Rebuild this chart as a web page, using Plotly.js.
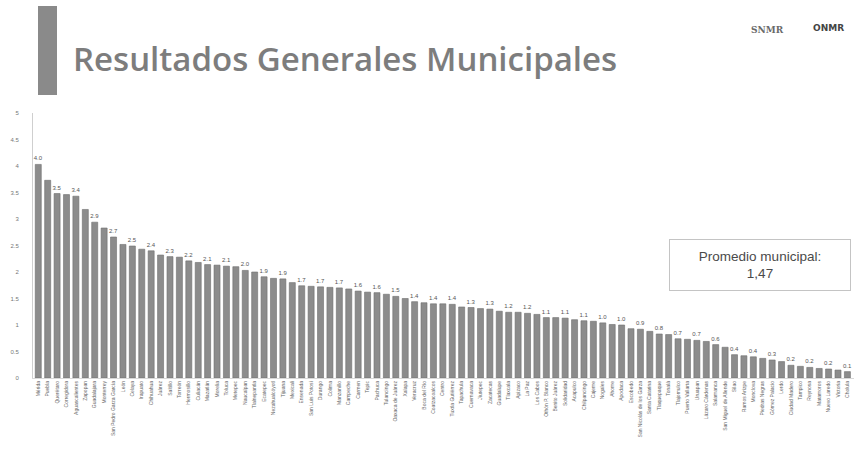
<!DOCTYPE html>
<html>
<head>
<meta charset="utf-8">
<script src="https://cdn.plot.ly/plotly-3.0.1.min.js"></script>
<style>html,body{margin:0;padding:0;background:#fff;}#chart{width:854px;height:454px;}</style>
</head>
<body>
<div id="chart"></div>
<script>
const municipios = [
  "Mérida","Puebla","Querétaro","Corregidora","Aguascalientes","Zapopan","Guadalajara","Monterrey",
  "San Pedro Garza García","León","Celaya","Irapuato","Chihuahua","Juárez","Saltillo","Torreón",
  "Hermosillo","Culiacán","Mazatlán","Morelia","Toluca","Metepec","Naucalpan","Tlalnepantla",
  "Ecatepec","Nezahualcóyotl","Tijuana","Mexicali","Ensenada","San Luis Potosí","Durango","Colima",
  "Manzanillo","Campeche","Carmen","Tepic","Pachuca","Tulancingo","Oaxaca de Juárez","Xalapa",
  "Veracruz","Boca del Río","Coatzacoalcos","Centro","Tuxtla Gutiérrez","Tapachula","Cuernavaca","Jiutepec",
  "Zacatecas","Guadalupe","Tlaxcala","Apizaco","La Paz","Los Cabos","Othón P. Blanco","Benito Juárez",
  "Solidaridad","Acapulco","Chilpancingo","Cajeme","Nogales","Ahome","Apodaca","Escobedo",
  "San Nicolás de los Garza","Santa Catarina","Tlaquepaque","Tonalá","Tlajomulco","Puerto Vallarta","Uruapan","Lázaro Cárdenas",
  "Salamanca","San Miguel de Allende","Silao","Ramos Arizpe","Monclova","Piedras Negras","Gómez Palacio","Lerdo",
  "Ciudad Madero","Tampico","Reynosa","Matamoros","Nuevo Laredo","Victoria","Cholula"
];
const resultados = [
  4.03,3.73,3.48,3.46,3.43,3.18,2.94,2.83,2.66,2.52,2.49,2.43,2.40,2.32,2.29,
  2.28,2.21,2.18,2.14,2.13,2.11,2.10,2.03,2.00,1.91,1.88,1.87,1.80,1.74,1.73,
  1.72,1.71,1.70,1.68,1.64,1.62,1.61,1.58,1.54,1.50,1.44,1.42,1.40,1.40,1.39,
  1.34,1.33,1.31,1.30,1.26,1.24,1.24,1.22,1.20,1.14,1.14,1.13,1.10,1.08,1.07,
  1.04,1.01,1.00,0.93,0.92,0.88,0.83,0.82,0.74,0.73,0.71,0.69,0.63,0.58,0.44,
  0.42,0.40,0.37,0.34,0.31,0.24,0.22,0.20,0.18,0.17,0.15,0.12
];
const yTicks = [0,0.5,1,1.5,2,2.5,3,3.5,4,4.5,5];
const tituloTexto = "Resultados Generales Municipales";
const promedioTexto = "Promedio municipal:<br>1,47";

// labels appear on every other bar
const etiquetas = resultados.map((v,i) => i % 2 === 0 ? v.toFixed(1) : "");

const L = 33, T = 113, W = 821, H = 265;
const px = x => (x - L) / W;
const py = y => (T + H - y) / H;

const trace = {
  type: "bar",
  x: municipios,
  y: resultados,
  text: etiquetas,
  textposition: "outside",
  textangle: 0,
  constraintext: "none",
  cliponaxis: false,
  textfont: {family: "Liberation Sans, Arial, sans-serif", size: 6, color: "#555"},
  marker: {color: "#8c8c8c", line: {color: "#6f6f6f", width: 0.6}},
  hoverinfo: "x+y"
};

const layout = {
  width: 854, height: 454,
  margin: {l: L, r: 854 - L - W, t: T, b: 454 - T - H},
  paper_bgcolor: "#fff", plot_bgcolor: "#fff",
  showlegend: false,
  bargap: 0.36,
  xaxis: {
    type: "category",
    range: [-0.56, 86.7],
    tickmode: "linear", tick0: 0, dtick: 1,
    tickangle: -90,
    tickfont: {family: "Liberation Sans, Arial, sans-serif", size: 5, color: "#666"},
    showline: true, linecolor: "#d8d8d8", linewidth: 1,
    ticks: "", showgrid: false, zeroline: false, automargin: false
  },
  yaxis: {
    range: [0, 5],
    tickmode: "array", tickvals: yTicks, ticktext: yTicks.map(String),
    tickfont: {family: "Liberation Sans, Arial, sans-serif", size: 6, color: "#777"},
    showline: true, linecolor: "#cfcfcf", linewidth: 1,
    ticks: "", ticklabelstandoff: 12,
    showgrid: false, zeroline: false, automargin: false
  },
  shapes: [
    {type: "rect", xref: "paper", yref: "paper",
     x0: px(38), x1: px(57), y0: py(95), y1: py(6),
     fillcolor: "#8a8a8a", line: {width: 0}}
  ],
  annotations: [
    {xref: "paper", yref: "paper", x: px(71), y: py(58), xanchor: "left", yanchor: "middle",
     text: tituloTexto, showarrow: false,
     font: {family: "Open Sans, sans-serif", size: 33, weight: 600, color: "#7d7d7d"}},
    {xref: "paper", yref: "paper", x: px(767), y: py(30), xanchor: "center", yanchor: "middle",
     text: "<b>SNMR</b>", showarrow: false,
     font: {family: "DejaVu Serif, serif", size: 9, color: "#6a6a6a"}},
    {xref: "paper", yref: "paper", x: px(828), y: py(28), xanchor: "center", yanchor: "middle",
     text: "<b>ONMR</b>", showarrow: false,
     font: {family: "DejaVu Sans, sans-serif", size: 9, color: "#444"}},
    {xref: "paper", yref: "paper", x: px(760), y: py(265), xanchor: "center", yanchor: "middle",
     text: promedioTexto, showarrow: false,
     width: 172, height: 42, align: "center",
     bgcolor: "#fff", bordercolor: "#c4c4c4", borderwidth: 1, borderpad: 4,
     font: {family: "Liberation Sans, Arial, sans-serif", size: 13.5, color: "#4a4a4a"}}
  ]
};

Plotly.newPlot("chart", [trace], layout, {displayModeBar: false, staticPlot: true});
</script>
</body>
</html>
